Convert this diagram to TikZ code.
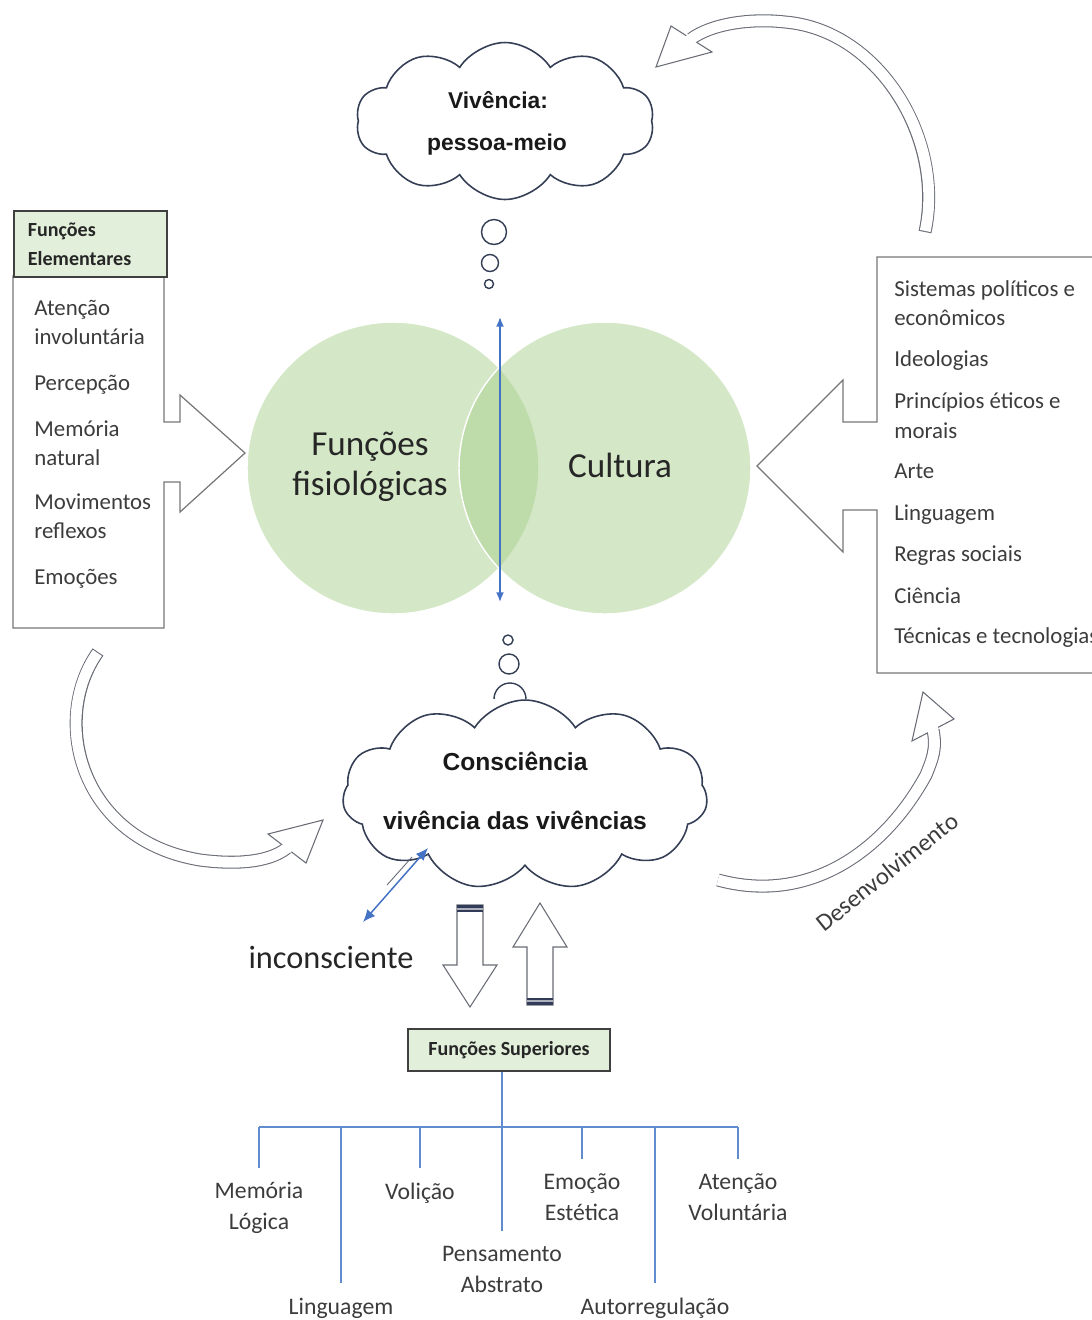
\documentclass[tikz,border=0pt]{standalone}
\usepackage{fontspec}
\setmainfont{Carlito}
\newfontfamily\cloudfont{Liberation Sans}
\usetikzlibrary{arrows.meta,calc,shapes.symbols}
\definecolor{vgreen}{RGB}{169,208,142}
\definecolor{hdrfill}{RGB}{226,239,218}
\definecolor{hdrdraw}{RGB}{64,64,64}
\definecolor{boxgray}{RGB}{118,118,118}
\definecolor{arrgray}{RGB}{105,108,118}
\definecolor{cloudline}{RGB}{52,62,84}
\definecolor{mblue}{RGB}{68,114,196}
\definecolor{treeblue}{RGB}{96,140,208}
\definecolor{navyband}{RGB}{50,60,88}
\definecolor{txtgray}{RGB}{60,60,60}
\newcommand{\fsz}[2]{\fontsize{#1pt}{#2pt}\selectfont}

\begin{document}
\begin{tikzpicture}[x=0.02cm,y=-0.02cm,
  vcirc/.style={circle,fill=vgreen,fill opacity=0.5,draw=white,line width=0.8pt,
    minimum size=5.84cm,inner sep=0pt},
  circtxt/.style={font=\fsz{20}{22.8},align=center,text=black!85,inner sep=0pt},
  listln/.style={font=\fsz{13}{16},anchor=base west,inner sep=0pt,text=txtgray},
  hdrbox/.style={draw=hdrdraw,line width=1.1pt,fill=hdrfill,
    font=\bfseries\fsz{11.4}{16.5},text=black!85},
  callout/.style={draw=boxgray,line width=0.7pt,line join=miter},
  cloudbox/.style={cloud,cloud puffs=10,cloud puff arc=115,cloud ignores aspect,
    draw=cloudline,line width=0.9pt,fill=white,inner sep=0pt},
  cloudtxt/.style={font=\cloudfont\bfseries\fsz{13}{15},text=black!90,inner sep=0pt},
  bubble/.style={draw=cloudline,line width=0.8pt,fill=white},
  axarr/.style={{Latex[length=5.5pt,width=4.5pt]}-{Latex[length=5.5pt,width=4.5pt]},
    mblue,line width=0.85pt},
  incarr/.style={{Latex[length=7pt,width=6pt]}-{Latex[length=7pt,width=6pt]},
    mblue,line width=0.85pt},
  bandout/.style={draw=arrgray,line width=7.4pt},
  bandin/.style={draw=white,line width=6.2pt},
  headtri/.style={fill=white,draw=arrgray,line width=0.6pt,line join=miter},
  blockarr/.style={draw=arrgray,line width=0.6pt,fill=white,line join=miter},
  treeln/.style={draw=treeblue,line width=0.75pt},
  treelbl/.style={font=\fsz{13.5}{17.6},align=center,text=txtgray,inner sep=0pt}
]
  \useasboundingbox (0,0) rectangle (1092,1320);
  \clip (0,0) rectangle (1092,1320);

  % Venn
  \node[vcirc] (fisio) at (393,468) {};
  \node[vcirc] (cult) at (605,468) {};
  \node[circtxt] (fisiotxt) at (370,467) {Funções\\fisiológicas};
  \node[circtxt] (culttxt) at (620,465) {Cultura};
  \coordinate (ax-top) at (500,317);
  \coordinate (ax-bot) at (500,602);
  \draw[axarr] (ax-bot) -- (ax-top);

  % Vivencia cloud
  \node[cloudbox,minimum width=5.96cm,minimum height=3.14cm] (viv) at (505,121) {};
  \node[cloudtxt] (vivA) at (498,100) {Vivência:};
  \node[cloudtxt] (vivB) at (497,145) {pessoa-meio};
  \draw[bubble] (494,232) circle[radius=12.5] (490,263) circle[radius=8.5]
    (489,284) circle[radius=4.5];

  % Consciencia cloud
  \node[cloudbox,cloud puffs=11,minimum width=7.3cm,minimum height=3.8cm] (consc) at (525,795) {};
  \node[cloudtxt,font=\cloudfont\bfseries\fsz{14}{16}] (conscA) at (515,761) {Consciência};
  \node[cloudtxt,font=\cloudfont\bfseries\fsz{14}{16}] (conscB) at (515,820) {vivência das vivências};
  \draw[bubble] (508,640) circle[radius=5] (509,664) circle[radius=10];
  \draw[bubble,fill=none] (494,699) arc[start angle=180,end angle=360,radius=16];

  % inconsciente
  \coordinate (inc-a) at (428,848);
  \coordinate (inc-b) at (363,922);
  \draw[incarr] (inc-b) -- (inc-a);
  \draw[arrgray,line width=0.5pt] (387,885) -- (412,857);
  \node[font=\fsz{18.4}{20},text=black!85,inner sep=0pt] (incon) at (331,957) {inconsciente};

  % Funcoes elementares
  \draw[callout] (13,276) -- (164,276) -- (164,422) -- (180,422) -- (180,395) -- (245,453)
    -- (180,512) -- (180,482) -- (164,482) -- (164,628) -- (13,628) -- cycle;
  \node[hdrbox,anchor=north west,minimum width=3.06cm,minimum height=1.32cm,
    text width=2.5cm,inner xsep=0.28cm,align=left] (elemhdr) at (13,210) {Funções\\Elementares};
  \foreach \yy/\txt [count=\i] in {315/Atenção,344/involuntária,390/Percepção,436/Memória,
      465/natural,509/Movimentos,538/reflexos,584/Emoções}
    \node[listln] (el\i) at (34,\yy) {\txt};

  % Cultura list
  \draw[callout] (1100,257) -- (877,257) -- (877,422) -- (843,422) -- (843,380) -- (757,466)
    -- (843,552) -- (843,510) -- (877,510) -- (877,673) -- (1100,673);
  \foreach \yy/\txt [count=\i] in {296/Sistemas políticos e,325/econômicos,366/Ideologias,
      408/Princípios éticos e,438/morais,478/Arte,520/Linguagem,561/Regras sociais,
      603/Ciência,643/Técnicas e tecnologias}
    \node[listln] (cl\i) at (894,\yy) {\txt};

  % curved arrow: cultura -> vivencia
  \coordinate (ta-tail) at (925,232);
  \coordinate (ta-mid) at (691,39);
  \coordinate (ta-tip) at (656,67);
  \draw[bandout] (ta-tail) .. controls (945,140) and (880,30) .. (785,22)
    .. controls (750,18) and (711,24) .. (ta-mid);
  \draw[headtri] (ta-tip) -- (671,26) -- (712,52) -- cycle;
  \draw[bandin,shorten <=0.6pt] (ta-tail) .. controls (945,140) and (880,30) .. (785,22)
    .. controls (750,18) and (711,24) .. (ta-mid) -- ($(ta-mid)!0.35!(ta-tip)$);

  % curved arrow: elementares -> consciencia
  \coordinate (la-tail) at (98,652);
  \coordinate (la-mid) at (287,848);
  \coordinate (la-tip) at (323,820);
  \draw[bandout] (la-tail) .. controls (50,720) and (80,840) .. (200,860)
    .. controls (230,864) and (267,864) .. (la-mid);
  \draw[headtri] (la-tip) -- (268,834) -- (306,863) -- cycle;
  \draw[bandin,shorten <=0.6pt] (la-tail) .. controls (50,720) and (80,840) .. (200,860)
    .. controls (230,864) and (267,864) .. (la-mid) -- ($(la-mid)!0.35!(la-tip)$);

  % curved arrow: consciencia -> cultura
  \coordinate (da-tail) at (718,880);
  \coordinate (da-mid) at (933,730);
  \coordinate (da-tip) at (923,692);
  \draw[bandout] (da-tail) .. controls (810,905) and (885,850) .. (926,775)
    .. controls (932,760) and (937,749) .. (da-mid);
  \draw[headtri] (da-tip) -- (912,741) -- (954,719) -- cycle;
  \draw[bandin] (da-tail) .. controls (810,905) and (885,850) .. (926,775)
    .. controls (932,760) and (937,749) .. (da-mid) -- ($(da-mid)!0.35!(da-tip)$);
  \node[font=\fsz{14}{16},text=txtgray,rotate=38.5,inner sep=0pt] (desenv) at (887,872) {Desenvolvimento};

  % block arrows
  \draw[blockarr] (457,905) -- (483,905) -- (483,965) -- (497,965) -- (470,1007) -- (443,965)
    -- (457,965) -- cycle;
  \fill[navyband] (457,905) rectangle (483,912);
  \draw[white!60!navyband,line width=0.6pt] (457,909) -- (483,909);
  \draw[blockarr] (540,903) -- (567,947) -- (553,947) -- (553,1005) -- (527,1005) -- (527,947)
    -- (513,947) -- cycle;
  \fill[navyband] (527,998) rectangle (553,1005);
  \draw[white!60!navyband,line width=0.6pt] (527,1001) -- (553,1001);

  % Funcoes superiores
  \node[hdrbox,minimum width=4.04cm,minimum height=0.84cm] (fsup) at (509,1050) {Funções Superiores};
  \node[treelbl] (memlog) at (259,1208) {Memória\\Lógica};
  \node[treelbl] (volic) at (420,1193) {Volição};
  \node[treelbl] (pensab) at (502,1269) {Pensamento\\Abstrato};
  \node[treelbl] (emoest) at (582,1197) {Emoção\\Estética};
  \node[treelbl] (atvol) at (738,1197) {Atenção\\Voluntária};
  \node[treelbl] (lingu) at (341,1308) {Linguagem};
  \node[treelbl] (autor) at (655,1308) {Autorregulação};
  \coordinate (stem) at (502,1127);
  \draw[treeln] (fsup.south -| stem) -- (stem);
  \draw[treeln] (memlog.north |- stem) -- (atvol.north |- stem);
  \foreach \lb in {memlog,lingu,volic,pensab,emoest,autor,atvol}
    \draw[treeln] (\lb.north |- stem) -- ([yshift=8pt]\lb.north);
\end{tikzpicture}
\end{document}
